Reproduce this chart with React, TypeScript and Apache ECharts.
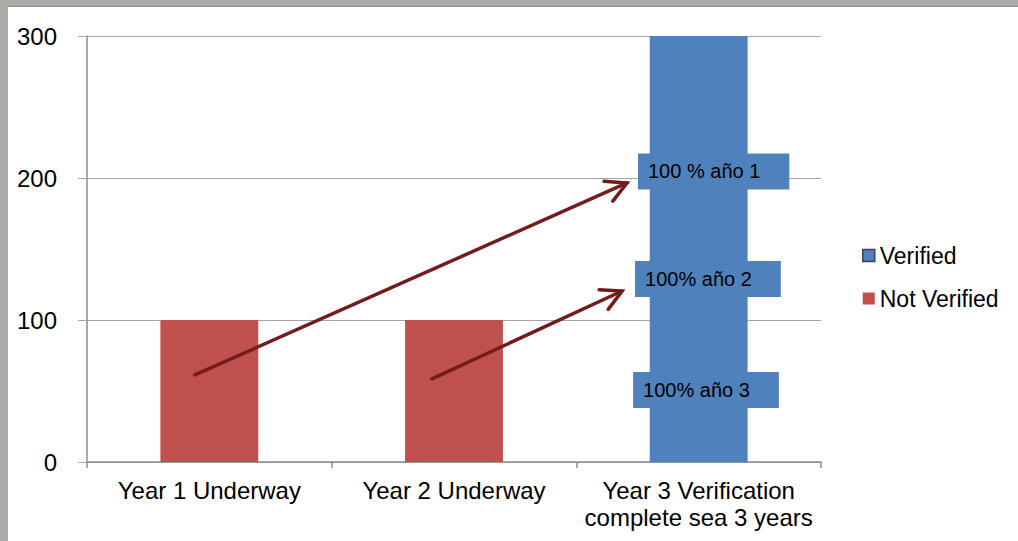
import React, { useEffect, useRef } from "react";
import * as echarts from "echarts";

const categories = ["Year 1 Underway", "Year 2 Underway", "Year 3 Verification\ncomplete sea 3 years"];
const verified = [0, 0, 300];
const notVerified = [100, 100, 0];
const yTicks = { min: 0, max: 300, interval: 100 };

// annotation boxes: [x (category position, left edge), y value (centre)]
const noteAnchors = [
  [1.752, 204.6],
  [1.74, 128.9],
  [1.732, 50.7],
];
const noteTexts = ["100 % año 1", "100% año 2", "100% año 3"];

// arrows: [x1, y1, x2, y2] in (category position, value)
const arrows = [
  [-0.059, 61.3, 1.707, 196.5],
  [0.91, 58.5, 1.687, 120.4],
];

const FONT = '"Liberation Sans", Arial, sans-serif';

export default function App() {
  const ref = useRef<HTMLDivElement>(null);
  useEffect(() => {
    if (!ref.current) return;
    const chart = echarts.init(ref.current, undefined, { renderer: "svg" });
    chart.setOption({
      animation: false,
      backgroundColor: "#ffffff",
      textStyle: { fontFamily: FONT },
      grid: { left: 79, top: 29, right: 197, bottom: 79, containLabel: false },
      legend: {
        orient: "vertical",
        left: 854,
        top: 237,
        padding: 0,
        itemGap: 20,
        itemWidth: 12,
        itemHeight: 12,
        textStyle: { fontSize: 23, color: "#000", fontFamily: FONT },
        data: [
          { name: "Verified", icon: "rect", itemStyle: { borderColor: "#403a6e", borderWidth: 1.5 } },
          { name: "Not Verified", icon: "rect" },
        ],
      },
      xAxis: [
        {
          type: "category",
          data: categories,
          axisLine: { onZero: false, lineStyle: { color: "#8c8c8c", width: 1.5 } },
          axisTick: { show: true, length: 6, lineStyle: { color: "#8c8c8c", width: 1.5 } },
          axisLabel: { interval: 0, fontSize: 24, color: "#000", margin: 15, lineHeight: 27, fontFamily: FONT },
        },
        {
          type: "value",
          min: -0.5,
          max: 2.5,
          show: false,
        },
      ],
      yAxis: {
        type: "value",
        min: yTicks.min,
        max: yTicks.max,
        interval: yTicks.interval,
        axisLine: { show: true, onZero: false, lineStyle: { color: "#8c8c8c", width: 1.5 } },
        axisTick: { show: true, length: 9, lineStyle: { color: "#a6a6a6" } },
        axisLabel: { fontSize: 24, color: "#000", margin: 30, fontFamily: FONT },
        splitLine: { lineStyle: { color: "#a6a6a6", width: 1 } },
      },
      series: [
        {
          name: "Verified",
          type: "bar",
          stack: "s",
          barWidth: "40%",
          data: verified,
          itemStyle: { color: "#4f81bd" },
        },
        {
          name: "Not Verified",
          type: "bar",
          stack: "s",
          barWidth: "40%",
          data: notVerified,
          itemStyle: { color: "#c0504d" },
        },
        {
          type: "custom",
          xAxisIndex: 1,
          yAxisIndex: 0,
          z: 10,
          data: noteAnchors,
          renderItem: (params: any, api: any) => {
            const p = api.coord([api.value(0), api.value(1)]);
            return {
              type: "text",
              x: p[0],
              y: p[1],
              style: {
                text: noteTexts[params.dataIndex],
                fill: "#000",
                font: "20px " + FONT,
                align: "left",
                verticalAlign: "middle",
                backgroundColor: "#4f81bd",
                padding: [8, 29, 8, 10],
              },
            };
          },
        },
        {
          type: "custom",
          xAxisIndex: 1,
          yAxisIndex: 0,
          z: 11,
          data: arrows,
          renderItem: (params: any, api: any) => {
            const a = api.coord([api.value(0), api.value(1)]);
            const b = api.coord([api.value(2), api.value(3)]);
            const ang = Math.atan2(b[1] - a[1], b[0] - a[0]);
            const L = 23;
            const h = (28 * Math.PI) / 180;
            const w1 = [b[0] - L * Math.cos(ang - h), b[1] - L * Math.sin(ang - h)];
            const w2 = [b[0] - L * Math.cos(ang + h), b[1] - L * Math.sin(ang + h)];
            const st = { stroke: "#741c1c", lineWidth: 3.5, fill: null, lineCap: "round", lineJoin: "miter" };
            return {
              type: "group",
              children: [
                { type: "line", shape: { x1: a[0], y1: a[1], x2: b[0], y2: b[1] }, style: st },
                { type: "polyline", shape: { points: [w1, b, w2] }, style: st },
              ],
            };
          },
        },
      ],
    });
    return () => chart.dispose();
  }, []);
  return (
    <div style={{ position: "fixed", left: 0, top: 0, width: 1018, height: 541, background: "#a9aba4", overflow: "hidden" }}>
      <div style={{ position: "absolute", left: 8, top: 6, width: 1010, height: 1, background: "#8e8f8a" }} />
      <div ref={ref} style={{ position: "absolute", left: 8, top: 7, width: 1010, height: 534, background: "#fff" }} />
    </div>
  );
}
